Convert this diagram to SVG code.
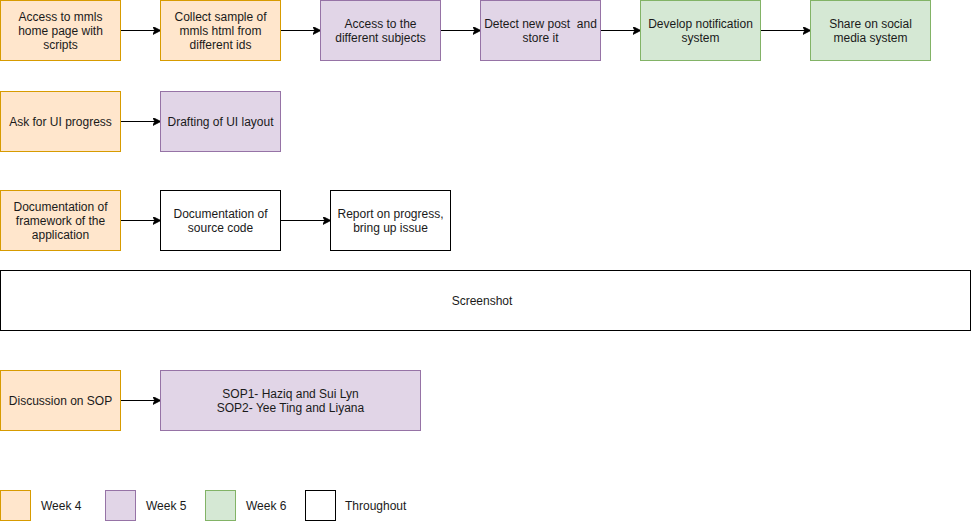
<svg xmlns="http://www.w3.org/2000/svg" width="971" height="521" viewBox="0 0 971 521">
<style>
.o{fill:#ffe6cc;stroke:#d79b00;stroke-width:1}
.p{fill:#e1d5e7;stroke:#9673a6;stroke-width:1}
.g{fill:#d5e8d4;stroke:#82b366;stroke-width:1}
.w{fill:#ffffff;stroke:#000000;stroke-width:1}
text{font-family:"Liberation Sans",Arial,Helvetica,sans-serif;font-size:12px;fill:#1a1a1a;text-anchor:middle;dominant-baseline:central}
.l{text-anchor:start}
.c{stroke:#000;stroke-width:1;fill:none;marker-end:url(#a)}
</style>
<defs>
<marker id="a" viewBox="0 0 10 10" refX="9" refY="5" markerWidth="8" markerHeight="8" markerUnits="userSpaceOnUse" orient="auto">
<path d="M0,0 L10,5 L0,10 L2.5,5 Z" fill="#000" stroke="#000" stroke-width="1"/>
</marker>
</defs>
<rect width="971" height="521" fill="#fff"/>
<g id="connectors">
<path class="c" d="M120.5,30.5 H160"/>
<path class="c" d="M280.5,30.5 H320"/>
<path class="c" d="M440.5,30.5 H480"/>
<path class="c" d="M600.5,30.5 H640"/>
<path class="c" d="M760.5,30.5 H810"/>
<path class="c" d="M120.5,121.5 H160"/>
<path class="c" d="M120.5,220.5 H160"/>
<path class="c" d="M280.5,220.5 H330"/>
<path class="c" d="M120.5,400.5 H160"/>
</g>
<g id="n1"><rect class="o" x="0.5" y="0.5" width="120" height="60"/><text x="60.5" y="16.5">Access to mmls</text><text x="60.5" y="30.5">home page with</text><text x="60.5" y="44.5">scripts</text></g>
<g id="n2"><rect class="o" x="160.5" y="0.5" width="120" height="60"/><text x="220.5" y="16.5">Collect sample of</text><text x="220.5" y="30.5">mmls html from</text><text x="220.5" y="44.5">different ids</text></g>
<g id="n3"><rect class="p" x="320.5" y="0.5" width="120" height="60"/><text x="380.5" y="23.5">Access to the</text><text x="380.5" y="37.5">different subjects</text></g>
<g id="n4"><rect class="p" x="480.5" y="0.5" width="120" height="60"/><text x="540.5" y="23.5" xml:space="preserve" style="white-space:pre">Detect new post  and</text><text x="540.5" y="37.5">store it</text></g>
<g id="n5"><rect class="g" x="640.5" y="0.5" width="120" height="60"/><text x="700.5" y="23.5">Develop notification</text><text x="700.5" y="37.5">system</text></g>
<g id="n6"><rect class="g" x="810.5" y="0.5" width="120" height="60"/><text x="870.5" y="23.5">Share on social</text><text x="870.5" y="37.5">media system</text></g>
<g id="n7"><rect class="o" x="0.5" y="91.5" width="120" height="60"/><text x="60.5" y="121.5">Ask for UI progress</text></g>
<g id="n8"><rect class="p" x="160.5" y="91.5" width="120" height="60"/><text x="220.5" y="121.5">Drafting of UI layout</text></g>
<g id="n9"><rect class="o" x="0.5" y="190.5" width="120" height="60"/><text x="60.5" y="206.5">Documentation of</text><text x="60.5" y="220.5">framework of the</text><text x="60.5" y="234.5">application</text></g>
<g id="n10"><rect class="w" x="160.5" y="190.5" width="120" height="60"/><text x="220.5" y="213.5">Documentation of</text><text x="220.5" y="227.5">source code</text></g>
<g id="n11"><rect class="w" x="330.5" y="190.5" width="120" height="60"/><text x="390.5" y="213.5">Report on progress,</text><text x="390.5" y="227.5">bring up issue</text></g>
<g id="n12"><rect class="w" x="0.5" y="270.5" width="970" height="60"/><text x="482" y="300.5">Screenshot</text></g>
<g id="n13"><rect class="o" x="0.5" y="370.5" width="120" height="60"/><text x="60.5" y="400.5">Discussion on SOP</text></g>
<g id="n14"><rect class="p" x="160.5" y="370.5" width="260" height="60"/><text x="290.5" y="393.5">SOP1- Haziq and Sui Lyn</text><text x="290.5" y="407.5">SOP2- Yee Ting and Liyana</text></g>
<g id="legend">
<rect class="o" x="0.5" y="490.5" width="30" height="30"/><text class="l" x="41" y="505.5">Week 4</text>
<rect class="p" x="105.5" y="490.5" width="30" height="30"/><text class="l" x="146" y="505.5">Week 5</text>
<rect class="g" x="205.5" y="490.5" width="30" height="30"/><text class="l" x="246" y="505.5">Week 6</text>
<rect class="w" x="305.5" y="490.5" width="30" height="30"/><text class="l" x="345" y="505.5">Throughout</text>
</g>
</svg>
